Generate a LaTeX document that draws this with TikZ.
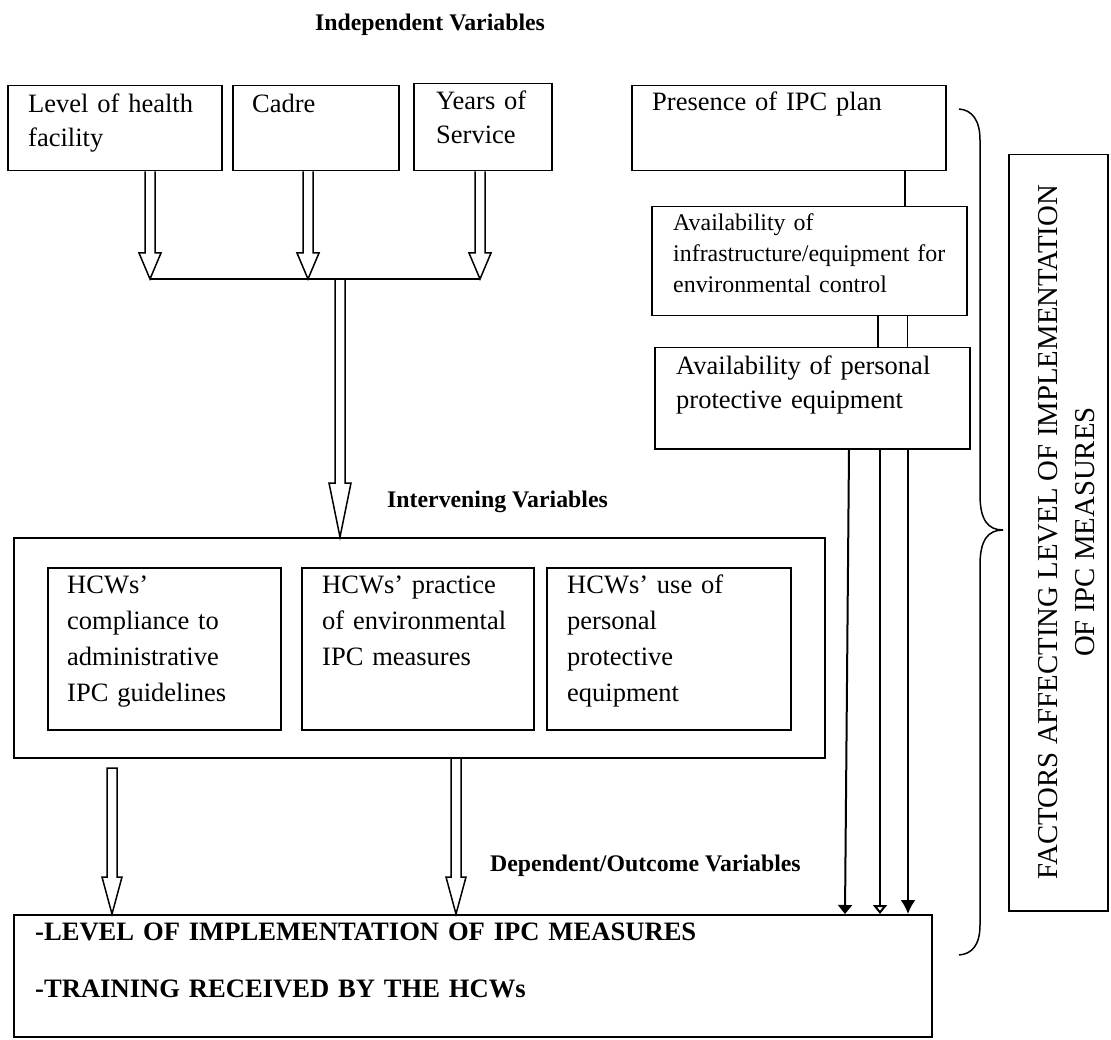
\documentclass[tikz,border=0pt]{standalone}
\usepackage{fontspec}
\setmainfont{Liberation Serif}
\usetikzlibrary{calc,arrows.meta}
\newcommand\fA{\fontsize{26.5}{34}\selectfont}
\newcommand\fB{\fontsize{26.5}{36}\selectfont}
\newcommand\fC{\fontsize{23.9}{31}\selectfont}
\newcommand\fD{\bfseries\fontsize{26.6}{57}\selectfont}
\newcommand\fE{\fontsize{28.8}{37}\selectfont}
\newcommand\blockarrow[6]{%
  \draw[blockarr] let \p1=(#1), \p2=(#2) in
  (\x1-#3,\y1) -- (\x1-#3,\y2+#5) -- (\x1-#4,\y2+#5) -- (\x1,\y2)
  -- (\x1+#4,\y2+#5) -- (\x1+#3,\y2+#5) -- (\x1+#3,\y1) #6;}
\tikzset{
  box/.style={draw, line width=1.5pt, inner sep=0pt, anchor=north west},
  bigbox/.style={box, line width=2pt},
  txt/.style={anchor=base west, inner sep=0pt, text width=880pt, align=left},
  lbl/.style={inner sep=0pt, font=\bfseries\fontsize{23.8}{28}\selectfont},
  blockarr/.style={line width=1.5pt, line join=miter},
  link/.style={line width=1.8pt},
  thinarr/.style={line width=2pt},
}
\begin{document}
\begin{tikzpicture}[x=1pt,y=-1pt]
\useasboundingbox (0,0) rectangle (1111,1040);

% labels
\node[lbl, anchor=base] (indep) at (430,31) {Independent Variables};
\node[lbl, anchor=base west] (interl) at (387,507) {Intervening Variables};
\node[lbl, anchor=base west] (depl) at (490,871) {Dependent/Outcome Variables};

% top boxes
\node[box, minimum width=214, minimum height=85] (lvl) at (7,85) {};
\node[txt, font=\fA] (lvlt) at (28,113) {Level of health\\facility};
\node[box, minimum width=166, minimum height=85] (cadre) at (232,85) {};
\node[txt, font=\fA] (cadret) at (252,113) {Cadre};
\node[box, minimum width=138, minimum height=87] (years) at (413,83) {};
\node[txt, font=\fA] (yearst) at (436,110) {Years of\\Service};

% right column
\node[box, minimum width=314, minimum height=85] (ipc) at (631,85) {};
\node[txt, font=\fA] (ipct) at (652,111) {Presence of IPC plan};
\node[box, minimum width=315, minimum height=109] (infra) at (651,206) {};
\node[txt, font=\fC] (infrat) at (673,231) {Availability of\\infrastructure/equipment for\\environmental control};
\node[box, minimum width=315, minimum height=101] (ppe) at (654,347) {};
\node[txt, font=\fA] (ppet) at (676,375) {Availability of personal\\protective equipment};

% intervening box
\node[bigbox, minimum width=811, minimum height=220] (interv) at (13,537) {};
\node[box, minimum width=233, minimum height=162] (hcw1) at (47,567) {};
\node[txt, font=\fB] (hcw1t) at (67,593) {HCWs’\\compliance to\\administrative\\IPC guidelines};
\node[box, minimum width=232, minimum height=162] (hcw2) at (301,567) {};
\node[txt, font=\fB] (hcw2t) at (322,593) {HCWs’ practice\\of environmental\\IPC measures};
\node[box, minimum width=244, minimum height=162] (hcw3) at (546,567) {};
\node[txt, font=\fB] (hcw3t) at (567,593) {HCWs’ use of\\personal\\protective\\equipment};

% outcome box
\node[bigbox, minimum width=918, minimum height=122] (outcome) at (13,914) {};
\node[txt, font=\fD] (outt) at (35,940) {-LEVEL OF IMPLEMENTATION OF IPC MEASURES\\-TRAINING RECEIVED BY THE HCWs};

% factors box
\node[box, minimum width=99, minimum height=756] (factors) at (1008,154) {};
\node[inner sep=0pt, rotate=90, align=center, font=\fE] (factt) at (1067,532)
  {FACTORS AFFECTING LEVEL OF IMPLEMENTATION\\OF IPC MEASURES};

% junction coordinates
\coordinate (jl) at (150,279);
\coordinate (jm) at (308,279);
\coordinate (jr) at (480,279);
\coordinate (jc) at (340,279);
\coordinate (bl) at (112,768);
\coordinate (bm) at (456,0);

% block arrows
\blockarrow{lvl.south -| jl}{jl}{5pt}{11pt}{26pt}{}
\blockarrow{cadre.south -| jm}{jm}{5pt}{11pt}{26pt}{}
\blockarrow{years.south -| jr}{jr}{5pt}{11pt}{26pt}{}
\draw[link] (jl) -- (jr);
\blockarrow{jc}{interv.north -| jc}{5pt}{11pt}{54pt}{}
\blockarrow{bl}{outcome.north -| bl}{5pt}{10pt}{37pt}{-- cycle}
\blockarrow{interv.south -| bm}{outcome.north -| bm}{5pt}{10pt}{37pt}{}

% right connectors
\coordinate (c1) at (905,0);
\coordinate (c2) at (878,0);
\coordinate (c3) at (907.5,0);
\coordinate (a1) at (849,0);
\coordinate (a1e) at (845,0);
\coordinate (a2) at (880,0);
\coordinate (a3) at (908,0);
\draw[link] (ipc.south -| c1) -- (infra.north -| c1);
\draw[link] (infra.south -| c2) -- (ppe.north -| c2);
\draw[link] (infra.south -| c3) -- (ppe.north -| c3);
\draw[thinarr, -{Triangle[length=9pt,width=14pt]}] (ppe.south -| a1) -- (outcome.north -| a1e);
\draw[thinarr, -{Triangle[open,length=9pt,width=14pt]}] (ppe.south -| a2) -- (outcome.north -| a2);
\draw[thinarr, -{Latex[length=14pt,width=15pt]}] (ppe.south -| a3) -- (outcome.north -| a3);

% brace
\coordinate (btop) at (959,109);
\coordinate (btip) at (1003,530);
\coordinate (bbot) at (959,955);
\draw[line width=1.5pt] (btop) .. controls (972,110) and (980,120) .. (980,140)
  -- (980,495) .. controls (980,520) and (988,530) .. (btip)
  .. controls (988,530) and (980,540) .. (980,565)
  -- (980,925) .. controls (980,945) and (972,954) .. (bbot);
\end{tikzpicture}
\end{document}
